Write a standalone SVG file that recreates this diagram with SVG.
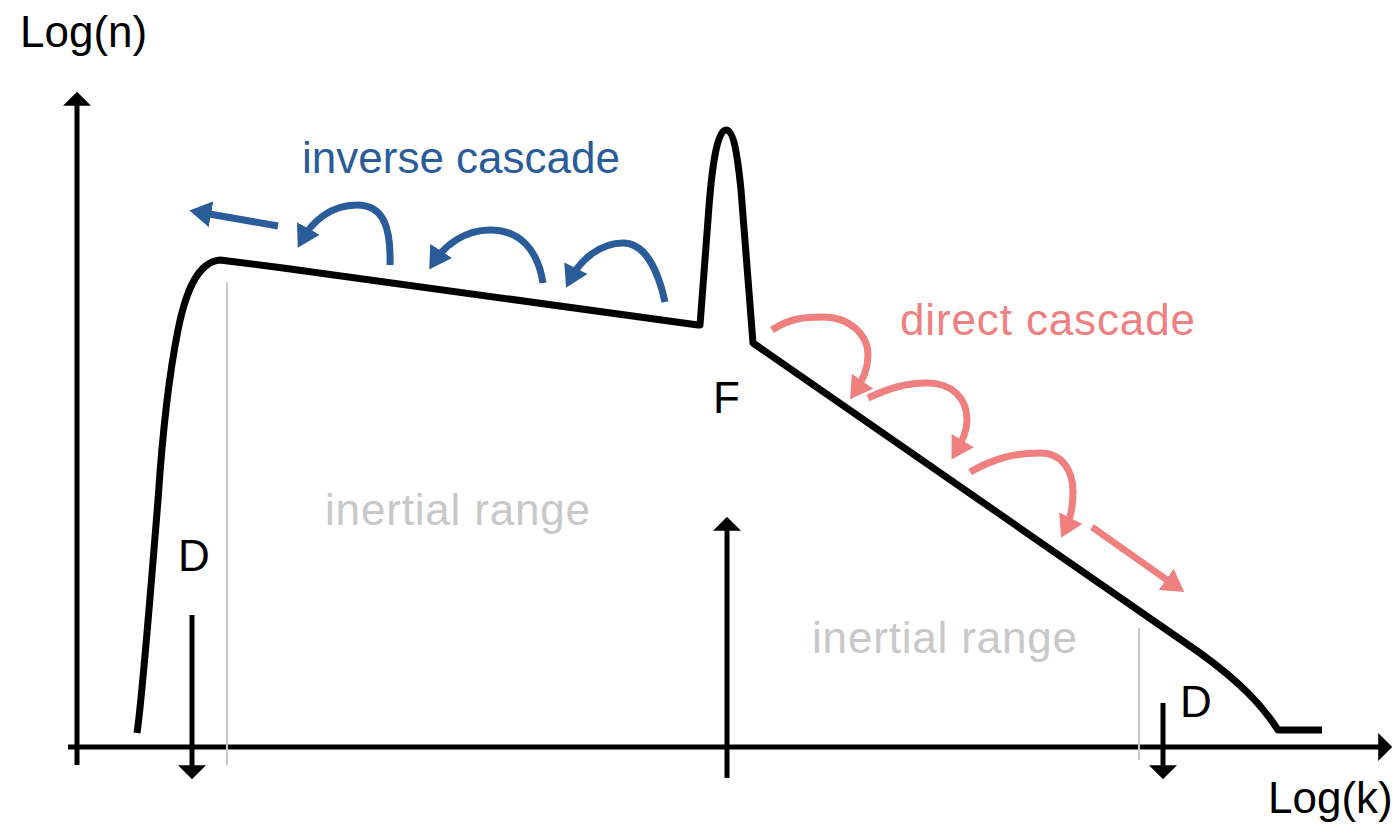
<svg xmlns="http://www.w3.org/2000/svg" width="1397" height="824" viewBox="0 0 1397 824">
  <style>
    .lbl { font-family: "Liberation Sans", Arial, sans-serif; font-size: 44px; }
    .axis { stroke: #000; stroke-width: 5; fill: none; }
    .curve { stroke: #000; stroke-width: 7; fill: none; stroke-linejoin: round; }
    .guide { stroke: #c8c8c8; stroke-width: 2; fill: none; }
    .blue { stroke: #2b5c9a; stroke-width: 7; fill: none; }
    .red { stroke: #f08080; stroke-width: 7; fill: none; }
  </style>
  <defs>
    <marker id="ahBlack" viewBox="0 0 10 10" refX="7" refY="5" markerWidth="14" markerHeight="28" markerUnits="userSpaceOnUse" orient="auto" preserveAspectRatio="none">
      <path d="M0,0 L10,5 L0,10 z" fill="#000"/>
    </marker>
    <marker id="ahBlue" viewBox="0 0 10 10" refX="6" refY="5" markerWidth="22" markerHeight="26" markerUnits="userSpaceOnUse" orient="auto" preserveAspectRatio="none">
      <path d="M0,0 L10,5 L0,10 z" fill="#2b5c9a"/>
    </marker>
    <marker id="ahRed" viewBox="0 0 10 10" refX="6" refY="5" markerWidth="22" markerHeight="26" markerUnits="userSpaceOnUse" orient="auto" preserveAspectRatio="none">
      <path d="M0,0 L10,5 L0,10 z" fill="#f08080"/>
    </marker>
  </defs>
  <rect width="1397" height="824" fill="#fff"/>

  <g id="axes">
    <line class="axis" x1="77" y1="765" x2="77" y2="96" marker-end="url(#ahBlack)"/>
    <line class="axis" x1="68" y1="747" x2="1388" y2="747" marker-end="url(#ahBlack)"/>
    <text class="lbl" x="20" y="47" fill="#000">Log(n)</text>
    <text class="lbl" x="1268" y="813" fill="#000">Log(k)</text>
  </g>

  <g id="guides">
    <line class="guide" x1="227" y1="282" x2="227" y2="765"/>
    <line class="guide" x1="1139" y1="628" x2="1139" y2="760"/>
  </g>

  <g id="spectrum">
    <path class="curve" d="M137,733 C142,700 150,600 158,500 C162,440 168,380 178,330 C186,290 198,262 220,260 L283,268 L698,325 L700,325 L708,220 C712,160 718,130 726,130 C733,130 737,150 741,190 L753,343 L1200,653 C1240,682 1262,705 1278,730 L1322,730"/>
  </g>

  <g id="labels">
    <text class="lbl" x="325" y="525" fill="#c8c8c8" textLength="265">inertial range</text>
    <text class="lbl" x="812" y="653" fill="#c8c8c8" textLength="265">inertial range</text>
    <text class="lbl" x="713" y="413" fill="#000" font-size="46">F</text>
    <text class="lbl" x="178" y="571" fill="#000" font-size="46">D</text>
    <text class="lbl" x="1180" y="717" fill="#000" font-size="46">D</text>
    <text class="lbl" x="302" y="173" fill="#2b5c9a" textLength="318">inverse cascade</text>
    <text class="lbl" x="900" y="335" fill="#f08080" textLength="295">direct cascade</text>
  </g>

  <g id="connectors">
    <line class="axis" x1="192" y1="615" x2="192" y2="775" stroke-width="6" marker-end="url(#ahBlack)"/>
    <line class="axis" x1="1163" y1="703" x2="1163" y2="775" stroke-width="6" marker-end="url(#ahBlack)"/>
    <line class="axis" x1="727" y1="778" x2="727" y2="521" marker-end="url(#ahBlack)"/>

    <line class="blue" x1="278" y1="226" x2="198" y2="212" marker-end="url(#ahBlue)"/>
    <path class="blue" d="M390,265 C391,228 384,205 357,205 C330,205 312,222 302,240" marker-end="url(#ahBlue)"/>
    <path class="blue" d="M543,283 C538,250 520,230 490,230 C465,230 445,245 434,262" marker-end="url(#ahBlue)"/>
    <path class="blue" d="M665,302 C658,270 645,243 623,243 C600,243 580,260 570,280" marker-end="url(#ahBlue)"/>

    <path class="red" d="M772,330 C790,318 805,317 823,317 C850,317 868,335 868,355 C868,370 862,382 855,392" marker-end="url(#ahRed)"/>
    <path class="red" d="M868,398 C890,388 905,383 927,383 C952,383 967,398 967,420 C967,432 962,442 956,452" marker-end="url(#ahRed)"/>
    <path class="red" d="M970,472 C995,458 1015,453 1040,453 C1062,453 1073,470 1073,492 C1073,508 1070,520 1065,530" marker-end="url(#ahRed)"/>
    <line class="red" x1="1092" y1="527" x2="1177" y2="587" marker-end="url(#ahRed)"/>
  </g>
</svg>
